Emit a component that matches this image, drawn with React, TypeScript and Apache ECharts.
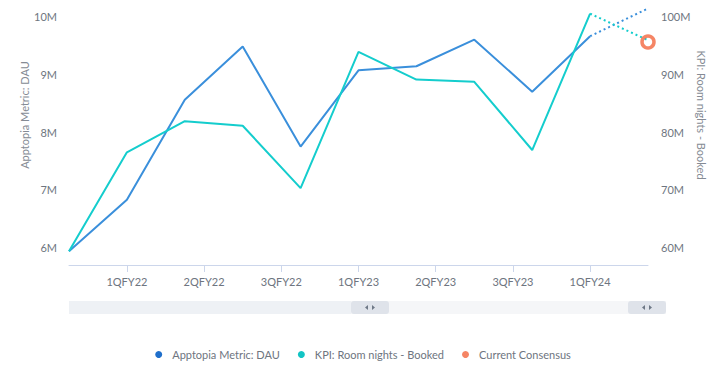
import React, { useEffect, useRef } from "react";
import * as echarts from "echarts";

// x positions in months from the first data point (quarterly data)
const monthOffsets = [0, 3, 6, 9, 12, 15, 18, 21, 24, 27, 30];
const dauValues = [5.94e6, 6.83e6, 8.56e6, 9.48e6, 7.75e6, 9.07e6, 9.14e6, 9.6e6, 8.7e6, 9.66e6, 10.14e6];
const kpiValues = [59.4e6, 76.5e6, 81.9e6, 81.1e6, 70.3e6, 93.9e6, 89.1e6, 88.7e6, 76.9e6, 100.5e6, 95.9e6];
const forecastStart = 9; // segments after this index are dotted
const consensusMonth = 30;
const consensusValue = 95.6e6;

const tickMonths = [3, 7, 11, 15, 19, 23, 27];
const tickLabels = ["1QFY22", "2QFY22", "3QFY22", "1QFY23", "2QFY23", "3QFY23", "1QFY24"];
const leftTicks = [6e6, 7e6, 8e6, 9e6, 10e6];
const rightTicks = [60e6, 70e6, 80e6, 90e6, 100e6];

const DAU_COLOR = "#3a8fdb";
const KPI_COLOR = "#14cdcd";
const CONS_COLOR = "#f2673f";
const LABEL_COLOR = "#6e7580";
const TITLE_COLOR = "#858b94";
const FONT = "Lato, 'Open Sans', sans-serif";

function solidPart(vals: number[]) {
  return vals.map((v, i) => [monthOffsets[i], i <= forecastStart ? v : null]);
}
function dottedPart(vals: number[]) {
  return vals.map((v, i) => [monthOffsets[i], i >= forecastStart ? v : null]);
}

export default function App() {
  const ref = useRef<HTMLDivElement>(null);
  useEffect(() => {
    if (!ref.current) return;
    const chart = echarts.init(ref.current, undefined, { renderer: "svg" });
    const fmtM = (v: number) => `${Math.round(v / 1e6)}M`;
    const arrow = (cx: number, cy: number, dir: number) => ({
      type: "polygon",
      shape: {
        points: [
          [cx + dir * 1.5, cy - 2.5],
          [cx + dir * 1.5, cy + 2.5],
          [cx - dir * 1.5, cy],
        ],
      },
      style: { fill: "#6e7886" },
      silent: true,
    });
    chart.setOption({
      animation: false,
      textStyle: { fontFamily: FONT },
      grid: { left: 69, right: 78, top: 5, height: 260, containLabel: false },
      xAxis: {
        type: "value",
        min: 0,
        max: 30,
        axisLine: { show: true, lineStyle: { color: "#ccd6eb", width: 1 } },
        axisTick: { show: true, length: 7, lineStyle: { color: "#ccd6eb" }, customValues: tickMonths },
        axisLabel: {
          customValues: tickMonths,
          color: LABEL_COLOR,
          fontSize: 11,
          margin: 11,
          fontFamily: FONT,
          formatter: (v: number) => tickLabels[tickMonths.indexOf(Math.round(v))] ?? "",
        },
        splitLine: { show: false },
      },
      yAxis: [
        {
          type: "value",
          min: 5.7e6,
          max: 10.2e6,
          axisLine: { show: false },
          axisTick: { show: false },
          splitLine: { show: false },
          axisLabel: {
            customValues: leftTicks,
            color: LABEL_COLOR,
            fontSize: 11,
            margin: 12,
            fontFamily: FONT,
            formatter: fmtM,
          },
        },
        {
          type: "value",
          min: 57e6,
          max: 102e6,
          position: "right",
          axisLine: { show: false },
          axisTick: { show: false },
          splitLine: { show: false },
          axisLabel: {
            customValues: rightTicks,
            color: LABEL_COLOR,
            fontSize: 11,
            margin: 13,
            fontFamily: FONT,
            formatter: fmtM,
          },
        },
      ],
      legend: {
        left: "center",
        top: 344,
        icon: "circle",
        itemWidth: 7,
        itemHeight: 7,
        itemGap: 18,
        textStyle: { color: LABEL_COLOR, fontSize: 11, fontFamily: FONT, padding: [0, 0, 0, 5] },
        data: [
          { name: "Apptopia Metric: DAU", itemStyle: { color: "#1f6fcb" } },
          { name: "KPI: Room nights - Booked", itemStyle: { color: "#12c4c4" } },
          { name: "Current Consensus", itemStyle: { color: CONS_COLOR, borderWidth: 0 } },
        ],
      },
      series: [
        {
          name: "Apptopia Metric: DAU",
          type: "line",
          yAxisIndex: 0,
          data: solidPart(dauValues),
          showSymbol: false,
          color: DAU_COLOR,
          lineStyle: { width: 2, color: DAU_COLOR },
        },
        {
          name: "Apptopia Metric: DAU",
          type: "line",
          yAxisIndex: 0,
          data: dottedPart(dauValues),
          showSymbol: false,
          color: DAU_COLOR,
          lineStyle: { width: 2, color: DAU_COLOR, type: [2, 3] },
        },
        {
          name: "KPI: Room nights - Booked",
          type: "line",
          yAxisIndex: 1,
          data: solidPart(kpiValues),
          showSymbol: false,
          color: KPI_COLOR,
          lineStyle: { width: 2, color: KPI_COLOR },
        },
        {
          name: "KPI: Room nights - Booked",
          type: "line",
          yAxisIndex: 1,
          data: dottedPart(kpiValues),
          showSymbol: false,
          color: KPI_COLOR,
          lineStyle: { width: 2, color: KPI_COLOR, type: [2, 3] },
        },
        {
          name: "Current Consensus",
          type: "scatter",
          yAxisIndex: 1,
          data: [[consensusMonth, consensusValue]],
          symbol: "circle",
          symbolSize: 12,
          z: 5,
          itemStyle: { color: "rgba(255,255,255,0)", borderColor: CONS_COLOR, borderWidth: 3.5 },
        },
      ],
      graphic: [
        {
          type: "text",
          x: 24,
          y: 115,
          rotation: Math.PI / 2,
          style: {
            text: "Apptopia Metric: DAU",
            fill: TITLE_COLOR,
            fontSize: 11,
            fontFamily: FONT,
            align: "center",
            verticalAlign: "middle",
          },
          silent: true,
        },
        {
          type: "text",
          x: 701,
          y: 115,
          rotation: -Math.PI / 2,
          style: {
            text: "KPI: Room nights - Booked",
            fill: TITLE_COLOR,
            fontSize: 11,
            fontFamily: FONT,
            align: "center",
            verticalAlign: "middle",
          },
          silent: true,
        },
        {
          type: "rect",
          shape: { x: 69, y: 301, width: 597, height: 13 },
          style: { fill: "#f5f6f8" },
          silent: true,
        },
        {
          type: "rect",
          shape: { x: 69, y: 301, width: 282, height: 13 },
          style: { fill: "#eef1f5" },
          silent: true,
        },
        {
          type: "rect",
          shape: { x: 351, y: 301, width: 38, height: 13, r: 3 },
          style: { fill: "#dfe3ea" },
          silent: true,
        },
        {
          type: "rect",
          shape: { x: 628, y: 301, width: 38, height: 13, r: 3 },
          style: { fill: "#dfe3ea" },
          silent: true,
        },
        arrow(366.5, 307.5, 1),
        arrow(373.5, 307.5, -1),
        arrow(643.5, 307.5, 1),
        arrow(650.5, 307.5, -1),
      ],
    });
    return () => chart.dispose();
  }, []);
  return <div ref={ref} style={{ width: 726, height: 374, position: "absolute", left: 0, top: 0 }} />;
}
